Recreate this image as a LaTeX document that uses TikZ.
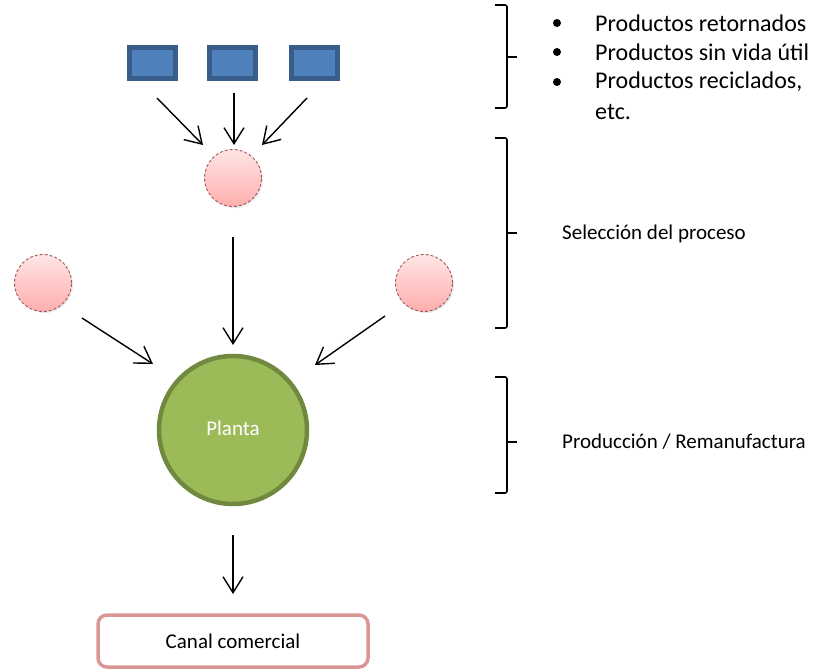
\documentclass[tikz,border=0pt]{standalone}
\usepackage{fontspec}
\setmainfont{Carlito}
\usetikzlibrary{arrows.meta,shadows}
\definecolor{boxblue}{HTML}{4F81BD}
\definecolor{boxedge}{HTML}{385D8A}
\definecolor{pinkedge}{HTML}{A05A5A}
\definecolor{olivefill}{HTML}{9BBB59}
\definecolor{oliveedge}{HTML}{71893F}
\definecolor{canaledge}{HTML}{D99694}
\tikzset{
  source/.style={draw=boxedge, line width=5pt, fill=boxblue, minimum width=46pt, minimum height=31pt, inner sep=0pt},
  stage/.style={circle, draw=pinkedge, densely dashed, line width=0.9pt, minimum size=57pt, inner sep=0pt,
    top color=red!10, bottom color=red!32!white, drop shadow={opacity=0.18, shadow xshift=1.5pt, shadow yshift=-1.5pt}},
  plant/.style={circle, draw=oliveedge, line width=4.5pt, fill=olivefill, minimum size=148pt, inner sep=0pt,
    text=white, font=\fontsize{21}{25}\selectfont},
  outlet/.style={draw=canaledge, line width=3.5pt, rounded corners=9pt, minimum width=270pt, minimum height=52pt,
    font=\fontsize{21}{25}\selectfont},
  flow/.style={line width=1.4pt, -{Straight Barb[length=16pt,width=20pt,line width=1.4pt]}},
  bracket/.style={line width=1.6pt, rounded corners=2pt},
  label/.style={anchor=west, inner sep=0pt, font=\fontsize{21}{25}\selectfont},
  item/.style={anchor=west, inner sep=0pt, font=\fontsize{24}{28}\selectfont}
}
\begin{document}
\begin{tikzpicture}[x=1pt,y=-1pt]
\useasboundingbox (0,0) rectangle (817,669);

% incoming product sources
\node[source] (s1) at (152,63) {};
\node[source] (s2) at (232,63) {};
\node[source] (s3) at (314,63) {};

% selection stages
\node[stage] (c0) at (233,178) {};
\node[stage] (cl) at (43,283) {};
\node[stage] (cr) at (424,283) {};

% plant and commercial channel
\node[plant] (p) at (233,430) {\raisebox{4pt}{Planta}};
\node[outlet] (k) at (233,641) {Canal comercial};

% connector end points
\coordinate (a1s) at (157,98);  \coordinate (a1e) at (203,145);
\coordinate (a2s) at (234,93);  \coordinate (a2e) at (234,145);
\coordinate (a3s) at (307,98);  \coordinate (a3e) at (262,145);
\coordinate (b0s) at (233,237); \coordinate (b0e) at (233,345);
\coordinate (bls) at (82,318);  \coordinate (ble) at (153,364);
\coordinate (brs) at (385,316); \coordinate (bre) at (315,365);
\coordinate (cs) at (233,535);  \coordinate (ce) at (233,594);

\draw[flow] (a1s) -- (a1e);
\draw[flow] (a2s) -- (a2e);
\draw[flow] (a3s) -- (a3e);
\draw[flow] (b0s) -- (b0e);
\draw[flow] (bls) -- (ble);
\draw[flow] (brs) -- (bre);
\draw[flow] (cs) -- (ce);

% right-hand brackets
\draw[bracket] (495,5) -- (507,5) -- (507,108) -- (495,108);
\draw[bracket, rounded corners=0pt] (507,57) -- (517,57);
\draw[bracket] (495,138) -- (507,138) -- (507,328) -- (495,328);
\draw[bracket, rounded corners=0pt] (507,233) -- (517,233);
\draw[bracket] (495,377) -- (507,377) -- (507,493) -- (495,493);
\draw[bracket, rounded corners=0pt] (507,442) -- (517,442);

% product list
\node[item] (t1) at (595,23) {Productos retornados};
\node[item] (t2) at (595,52) {Productos sin vida útil};
\node[item] (t3) at (595,82) {Productos reciclados,};
\node[item] (t4) at (595,112) {etc.};
\fill (557,23) circle (4pt);
\fill (557,52) circle (4pt);
\fill (557,82) circle (4pt);

% stage labels
\node[label] (l1) at (562,234) {Selección del proceso};
\node[label] (l2) at (562,442) {Producción / Remanufactura};
\end{tikzpicture}
\end{document}
